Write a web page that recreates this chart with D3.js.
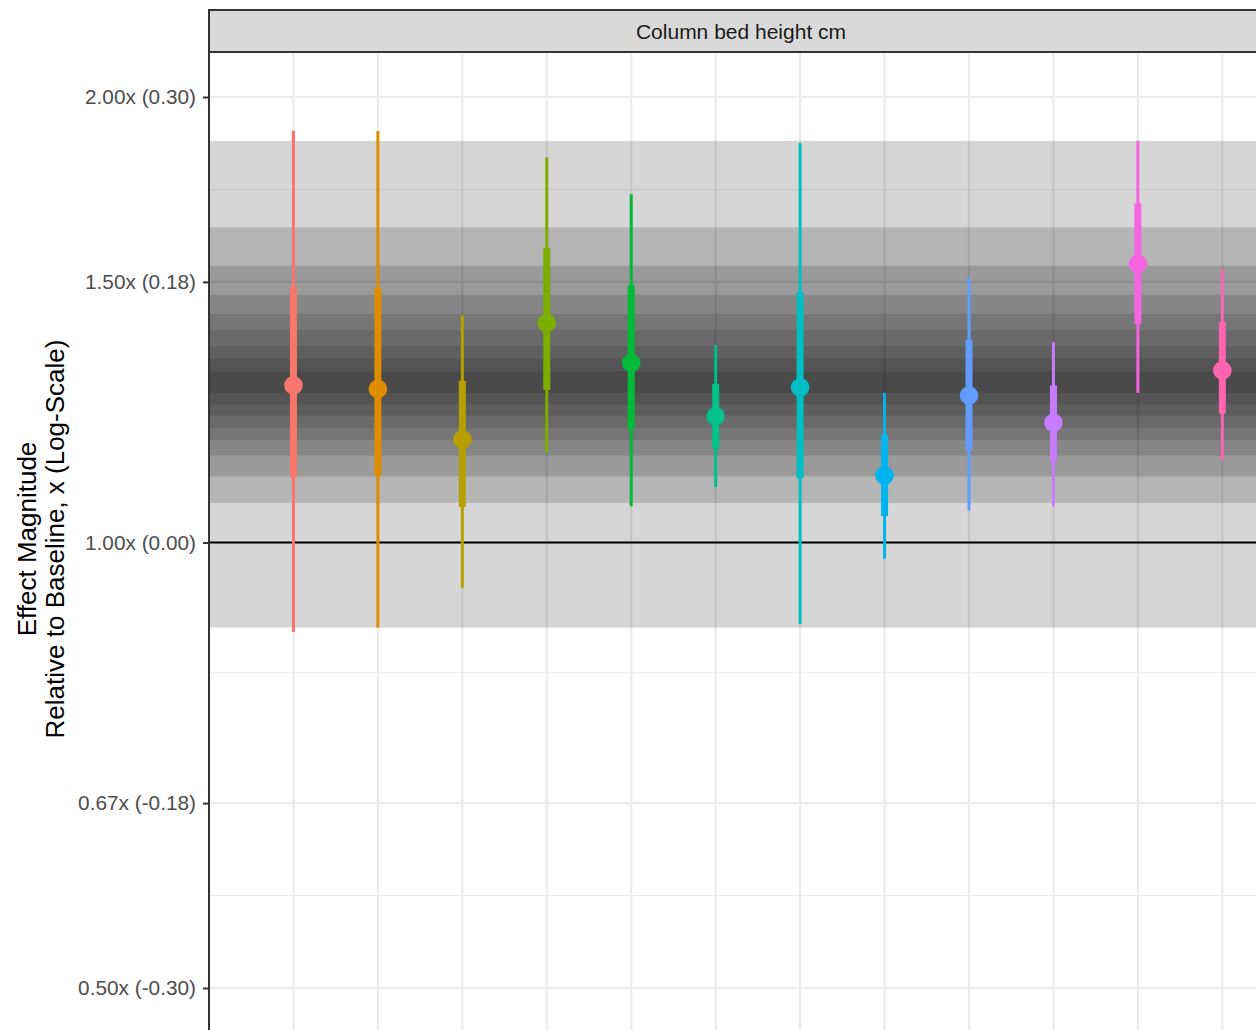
<!DOCTYPE html>
<html>
<head>
<meta charset="utf-8">
<script src="https://cdn.jsdelivr.net/npm/d3@7"></script>
<style>
  html, body { margin: 0; padding: 0; background: #fff; }
  svg { display: block; font-family: "Liberation Sans", Arial, Helvetica, sans-serif; }
</style>
</head>
<body>
<svg id="chart" width="1256" height="1030"></svg>
<script>
// ---- data -------------------------------------------------------------
const levels = ["1","2","3","4","5","6","7","8","9","10","11","12"];
const colors = ["#F8766D","#DE8C00","#B79F00","#7CAE00","#00BA38","#00C08B",
                "#00BFC4","#00B4F0","#619CFF","#C77CFF","#F564E3","#FF64B0"];

// posterior summaries (ratio scale): median, inner interval, outer interval
const medians = [1.277, 1.270, 1.174, 1.407, 1.322, 1.217, 1.273, 1.110, 1.257, 1.205, 1.543, 1.307];
const innerLo = [1.106, 1.110, 1.057, 1.268, 1.192, 1.157, 1.105, 1.042, 1.154, 1.134, 1.405, 1.222];
const innerHi = [1.489, 1.486, 1.286, 1.582, 1.492, 1.280, 1.476, 1.183, 1.371, 1.277, 1.695, 1.409];
const outerLo = [0.870, 0.876, 0.932, 1.150, 1.058, 1.090, 0.881, 0.975, 1.051, 1.058, 1.262, 1.136];
const outerHi = [1.898, 1.897, 1.424, 1.820, 1.719, 1.359, 1.861, 1.262, 1.511, 1.366, 1.868, 1.529];

// reference distribution shown as nested shaded intervals (outermost first)
const bandLo = [0.876, 1.0636, 1.1084, 1.1448, 1.1723, 1.1952, 1.2167, 1.2392, 1.2620];
const bandHi = [1.868, 1.633, 1.538, 1.470, 1.427, 1.392, 1.358, 1.331, 1.305];

const tickValues = [0.5, 2/3, 1, 1.5, 2];
const tickLabels = ["0.50x (-0.30)", "0.67x (-0.18)", "1.00x (0.00)", "1.50x (0.18)", "2.00x (0.30)"];

const stripLabel = "Column bed height cm";
const titleLines = ["Effect Magnitude", "Relative to Baseline, x (Log-Scale)"];

// ---- layout / style ---------------------------------------------------
const panel = { left: 209, top: 52, right: 1273, bottom: 1070 };
const strip = { top: 10, bottom: 52 };
const bandGrey = [214, 181, 154, 134, 118, 106, 95, 85, 75]; // cumulative grey per level

const svg = d3.select("#chart");

const y = d3.scaleLog().domain([0.5, 2]).range([988, 97]);
const x = d3.scaleLinear().domain([-1, levels.length - 0.4]).range([panel.left, panel.right]);

// clip for panel contents
svg.append("defs").append("clipPath").attr("id", "panelClip")
  .append("rect")
  .attr("x", panel.left).attr("y", panel.top)
  .attr("width", panel.right - panel.left).attr("height", panel.bottom - panel.top);

const g = svg.append("g").attr("clip-path", "url(#panelClip)");

g.append("rect")
  .attr("x", panel.left).attr("y", panel.top)
  .attr("width", panel.right - panel.left).attr("height", panel.bottom - panel.top)
  .attr("fill", "#fff");

// minor gridlines at log-midpoints between major breaks
const minorVals = d3.pairs(tickValues).map(([a, b]) => Math.sqrt(a * b));
g.selectAll("line.minor").data(minorVals).join("line")
  .attr("x1", panel.left).attr("x2", panel.right)
  .attr("y1", d => y(d)).attr("y2", d => y(d))
  .attr("stroke", "#ebebeb").attr("stroke-width", 1.1);

g.selectAll("line.majorY").data(tickValues).join("line")
  .attr("x1", panel.left).attr("x2", panel.right)
  .attr("y1", d => y(d)).attr("y2", d => y(d))
  .attr("stroke", "#ebebeb").attr("stroke-width", 2.2);

g.selectAll("line.majorX").data(levels).join("line")
  .attr("x1", (d, i) => x(i)).attr("x2", (d, i) => x(i))
  .attr("y1", panel.top).attr("y2", panel.bottom)
  .attr("stroke", "#ebebeb").attr("stroke-width", 2.2);

// shaded reference bands (translucent, stacking toward the centre)
const bandOpacity = bandGrey.map((gv, i) => 1 - gv / (i === 0 ? 255 : bandGrey[i - 1]));
g.selectAll("rect.band").data(bandLo).join("rect")
  .attr("x", panel.left).attr("width", panel.right - panel.left)
  .attr("y", (d, i) => y(bandHi[i]))
  .attr("height", (d, i) => y(bandLo[i]) - y(bandHi[i]))
  .attr("fill", "#000")
  .attr("fill-opacity", (d, i) => bandOpacity[i]);

// baseline
g.append("line")
  .attr("x1", panel.left).attr("x2", panel.right)
  .attr("y1", y(1)).attr("y2", y(1))
  .attr("stroke", "#000").attr("stroke-width", 2.2);

// intervals and medians
const series = g.selectAll("g.series").data(levels).join("g");
series.append("line")
  .attr("x1", (d, i) => x(i)).attr("x2", (d, i) => x(i))
  .attr("y1", (d, i) => y(outerLo[i])).attr("y2", (d, i) => y(outerHi[i]))
  .attr("stroke", (d, i) => colors[i]).attr("stroke-width", 3);
series.append("line")
  .attr("x1", (d, i) => x(i)).attr("x2", (d, i) => x(i))
  .attr("y1", (d, i) => y(innerLo[i])).attr("y2", (d, i) => y(innerHi[i]))
  .attr("stroke", (d, i) => colors[i]).attr("stroke-width", 7);
series.append("circle")
  .attr("cx", (d, i) => x(i)).attr("cy", (d, i) => y(medians[i]))
  .attr("r", 9.3)
  .attr("fill", (d, i) => colors[i]);

// panel border
svg.append("rect")
  .attr("x", panel.left).attr("y", panel.top)
  .attr("width", panel.right - panel.left).attr("height", panel.bottom - panel.top)
  .attr("fill", "none").attr("stroke", "#333").attr("stroke-width", 2);

// facet strip
svg.append("rect")
  .attr("x", panel.left).attr("y", strip.top)
  .attr("width", panel.right - panel.left).attr("height", strip.bottom - strip.top)
  .attr("fill", "#d9d9d9").attr("stroke", "#333").attr("stroke-width", 2);
svg.append("text")
  .attr("x", (panel.left + panel.right) / 2).attr("y", (strip.top + strip.bottom) / 2)
  .attr("dy", "0.36em").attr("text-anchor", "middle")
  .attr("font-size", 21).attr("fill", "#1a1a1a")
  .text(stripLabel);

// y axis
const yAxis = d3.axisLeft(y)
  .tickValues(tickValues)
  .tickFormat((d, i) => tickLabels[i])
  .tickSize(6).tickPadding(7);
const ax = svg.append("g").attr("transform", `translate(${panel.left},0)`).call(yAxis);
ax.select(".domain").remove();
ax.selectAll(".tick line").attr("stroke", "#333").attr("stroke-width", 2);
ax.selectAll(".tick text")
  .attr("font-size", 20.8).attr("fill", "#4d4d4d")
  .attr("font-family", "Liberation Sans, Arial, Helvetica, sans-serif");

// axis title
const title = svg.append("text")
  .attr("transform", "translate(0,539) rotate(-90)")
  .attr("text-anchor", "middle")
  .attr("font-size", 26).attr("fill", "#000");
title.selectAll("tspan").data(titleLines).join("tspan")
  .attr("x", 0).attr("y", (d, i) => 36 + i * 28)
  .text(d => d);
</script>
</body>
</html>
